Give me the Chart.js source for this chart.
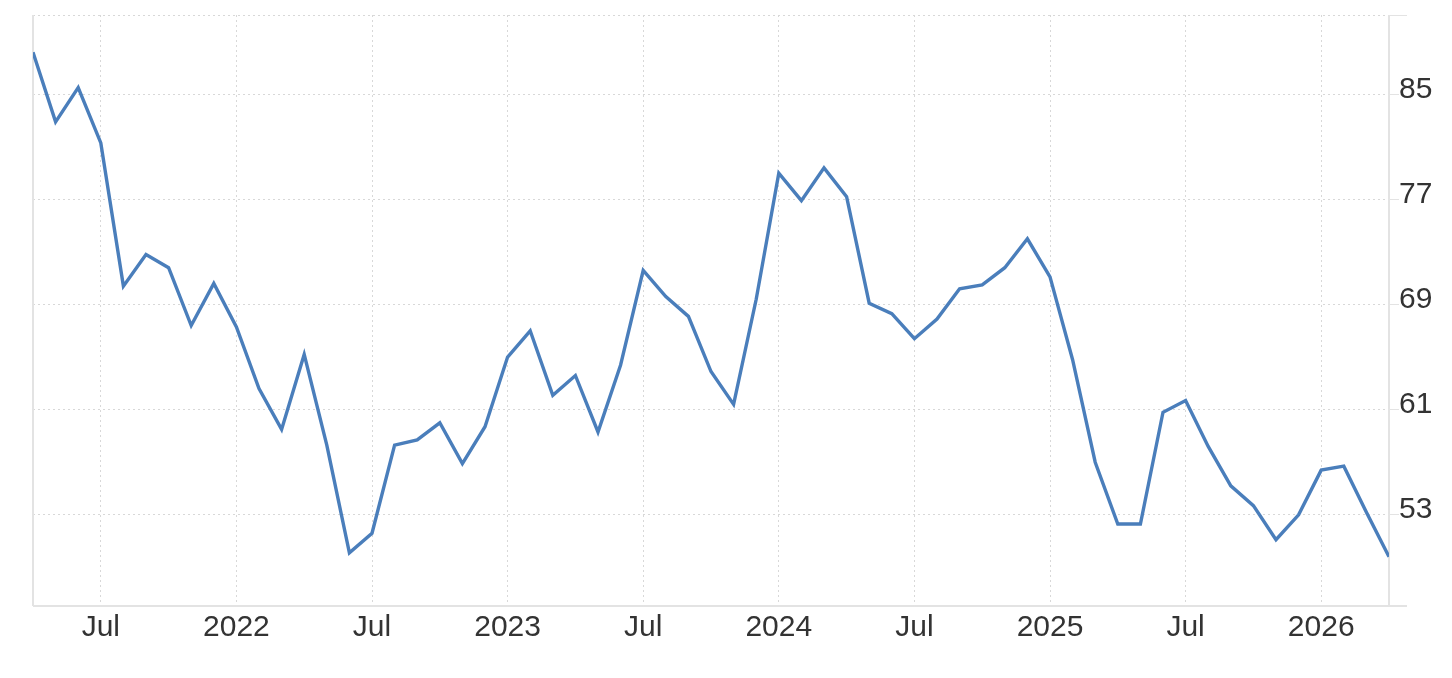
<!DOCTYPE html>
<html>
<head>
<meta charset="utf-8">
<script src="https://cdn.jsdelivr.net/npm/chart.js@4.4.1/dist/chart.umd.min.js"></script>
<style>
  html, body { margin: 0; padding: 0; background: #fff; }
  #contenedor { width: 1452px; height: 678px; position: relative; }
</style>
</head>
<body>
<div id="contenedor"><canvas id="grafico"></canvas></div>
<script>
// Meses (abril 2021 - abril 2026)
const meses = [
  '2021-04','2021-05','2021-06','2021-07','2021-08','2021-09','2021-10','2021-11','2021-12',
  '2022-01','2022-02','2022-03','2022-04','2022-05','2022-06','2022-07','2022-08','2022-09','2022-10','2022-11','2022-12',
  '2023-01','2023-02','2023-03','2023-04','2023-05','2023-06','2023-07','2023-08','2023-09','2023-10','2023-11','2023-12',
  '2024-01','2024-02','2024-03','2024-04','2024-05','2024-06','2024-07','2024-08','2024-09','2024-10','2024-11','2024-12',
  '2025-01','2025-02','2025-03','2025-04','2025-05','2025-06','2025-07','2025-08','2025-09','2025-10','2025-11','2025-12',
  '2026-01','2026-02','2026-03','2026-04'
];

// Valores
const valores = [
  88.2, 82.9, 85.5, 81.3, 70.4, 72.8, 71.8, 67.4, 70.6,
  67.3, 62.6, 59.5, 65.2, 58.3, 50.1, 51.6, 58.3, 58.7, 60.0, 56.9, 59.7,
  65.0, 67.0, 62.1, 63.6, 59.3, 64.4, 71.6, 69.6, 68.1, 63.9, 61.4, 69.4,
  79.0, 76.9, 79.4, 77.2, 69.1, 68.3, 66.4, 67.9, 70.2, 70.5, 71.8, 74.0,
  71.1, 64.8, 57.0, 52.3, 52.3, 60.8, 61.7, 58.2, 55.2, 53.7, 51.1, 53.0,
  56.4, 56.7, 53.2, 49.8
];

const marcasY = [53, 61, 69, 77, 85];
const mesesEje = ['2021-07','2022-01','2022-07','2023-01','2023-07','2024-01','2024-07','2025-01','2025-07','2026-01'];
const etiquetasX = ['Jul','2022','Jul','2023','Jul','2024','Jul','2025','Jul','2026'];

const colorLinea = '#4a7ebb';
const colorGrid = '#d8d8d8';
const colorBorde = '#e3e3e3';
const colorTexto = '#333333';

// Plugin para dibujar los bordes del área del gráfico
const marco = {
  id: 'marco',
  beforeDatasetsDraw(chart) {
    const { ctx, chartArea: a } = chart;
    ctx.save();
    // línea punteada superior
    ctx.strokeStyle = colorGrid;
    ctx.lineWidth = 1;
    ctx.setLineDash([2, 3]);
    ctx.beginPath();
    ctx.moveTo(a.left, a.top + 0.5);
    ctx.lineTo(a.right, a.top + 0.5);
    ctx.stroke();
    // bordes sólidos
    ctx.setLineDash([]);
    ctx.strokeStyle = colorBorde;
    ctx.lineWidth = 2;
    ctx.beginPath();
    ctx.moveTo(a.left, a.top);
    ctx.lineTo(a.left, a.bottom);
    ctx.moveTo(a.right, a.top);
    ctx.lineTo(a.right, a.bottom);
    ctx.moveTo(a.left, a.bottom);
    ctx.lineTo(a.right + 18, a.bottom);
    ctx.stroke();
    ctx.lineWidth = 1;
    ctx.beginPath();
    ctx.moveTo(a.right, a.top + 0.5);
    ctx.lineTo(a.right + 18, a.top + 0.5);
    ctx.stroke();
    ctx.restore();
  }
};

const ctx = document.getElementById('grafico').getContext('2d');
new Chart(ctx, {
  type: 'line',
  data: {
    datasets: [{
      data: valores.map((v, i) => ({ x: i, y: v })),
      borderColor: colorLinea,
      borderWidth: 3.4,
      pointRadius: 0,
      tension: 0,
      fill: false
    }]
  },
  options: {
    responsive: true,
    maintainAspectRatio: false,
    animation: false,
    layout: { padding: { top: 15, left: 33, right: 0, bottom: 0 } },
    plugins: {
      legend: { display: false },
      tooltip: { enabled: false }
    },
    scales: {
      x: {
        type: 'linear',
        min: 0,
        max: meses.length - 1,
        afterBuildTicks: scale => {
          scale.ticks = mesesEje.map(m => ({ value: meses.indexOf(m) }));
        },
        afterFit: scale => { scale.height = 72; },
        ticks: {
          callback: (v, i) => etiquetasX[i],
          color: colorTexto,
          font: { family: 'Liberation Sans, Arial, Helvetica, sans-serif', size: 30 },
          padding: 4,
          maxRotation: 0,
          minRotation: 0,
          autoSkip: false
        },
        grid: { color: colorGrid, lineWidth: 1, drawTicks: false },
        border: { display: false, dash: [2, 3] }
      },
      y: {
        position: 'right',
        min: 46.06,
        max: 91.03,
        afterBuildTicks: scale => {
          scale.ticks = marcasY.map(v => ({ value: v }));
        },
        afterFit: scale => {
          scale.width = 63;
          scale.paddingTop = 0;
          scale.paddingBottom = 0;
        },
        ticks: {
          color: colorTexto,
          font: { family: 'Liberation Sans, Arial, Helvetica, sans-serif', size: 30 },
          padding: 0,
          labelOffset: -5
        },
        grid: {
          color: colorGrid,
          lineWidth: 1,
          drawTicks: true,
          tickLength: 10,
          tickColor: colorBorde,
          tickBorderDash: []
        },
        border: { display: false, dash: [2, 3] }
      }
    }
  },
  plugins: [marco]
});
</script>
</body>
</html>
